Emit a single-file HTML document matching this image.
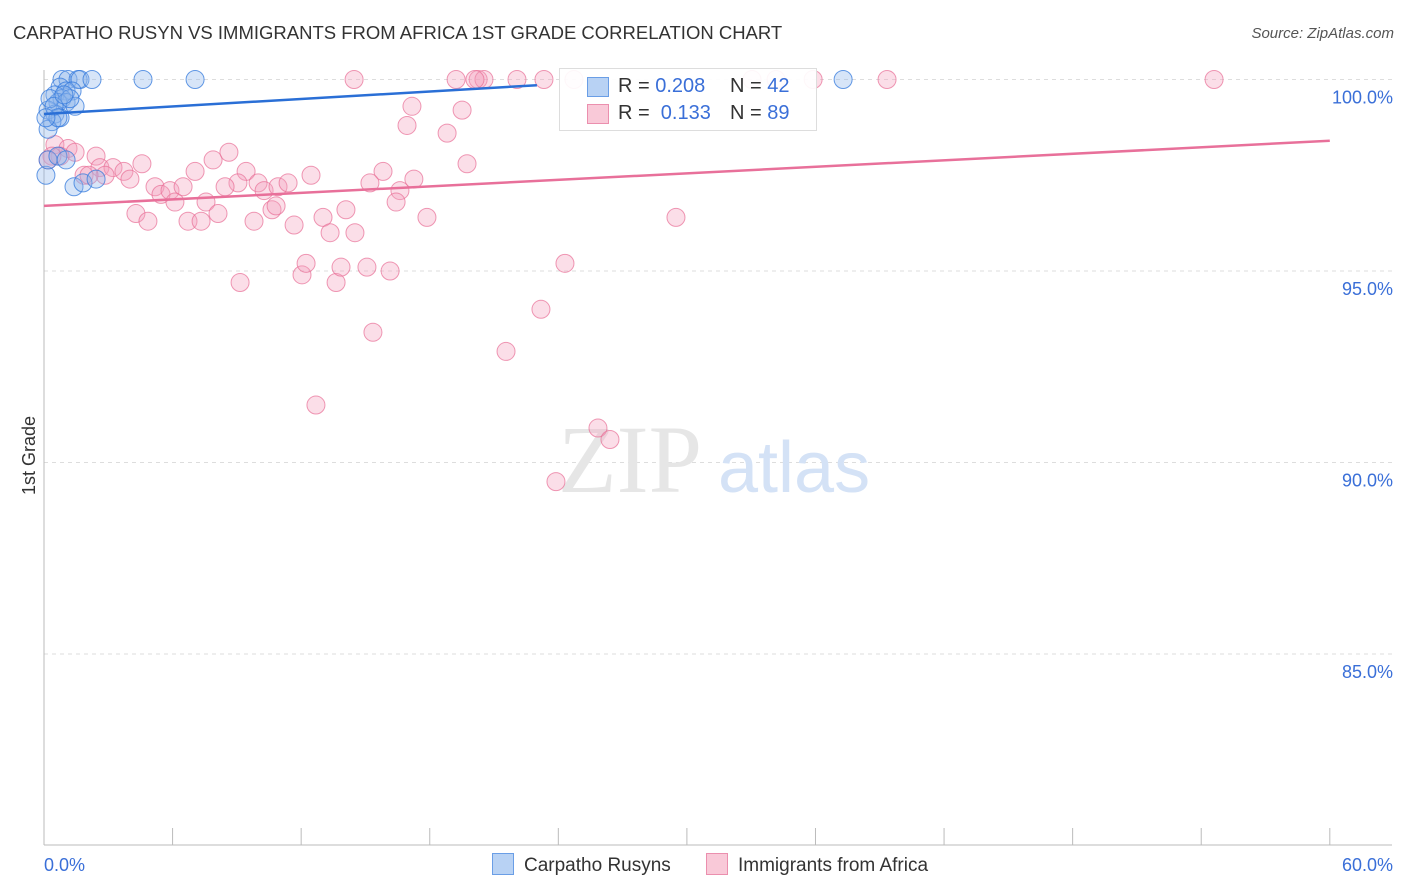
<!DOCTYPE html>
<html><head><meta charset="utf-8">
<style>
body{margin:0;background:#fff;font-family:"Liberation Sans",sans-serif;}
#wrap{position:relative;width:1406px;height:892px;overflow:hidden;}
.t{position:absolute;white-space:nowrap;}
</style></head><body>
<div id="wrap">
<div class="t" style="left:13px;top:22px;font-size:18.5px;color:#333;">CARPATHO RUSYN VS IMMIGRANTS FROM AFRICA 1ST GRADE CORRELATION CHART</div>
<div class="t" style="right:12px;top:25px;font-size:15px;color:#555;font-style:italic;">Source: ZipAtlas.com</div>
<div class="t" style="left:-10px;top:445px;font-size:18px;color:#333;transform:rotate(-90deg);">1st Grade</div>
<svg id="svg" width="1406" height="892" style="position:absolute;left:0;top:0"></svg>
</div>
<script>
const yTicks=[100,95,90,85];
const xTickLabels=["0.0%","60.0%"];
const blueX=[0.84,1.12,1.59,1.68,2.24,4.62,7.05,37.29,0.75,1.03,1.31,0.51,0.84,0.65,1.03,1.45,0.19,0.51,0.75,0.37,0.19,0.09,1.40,1.82,2.43,0.19,0.65,1.03,1.21,0.28,0.47,0.93,0.65,0.09];
const blueY=[100,100,100,100,100,100,100,100,99.8,99.7,99.7,99.6,99.5,99.4,99.4,99.3,99.2,99.1,99.0,98.9,98.7,97.5,97.2,97.3,97.4,97.9,98.0,97.9,99.5,99.5,99.3,99.6,99.0,99.0];
const pinkX=[14.47,19.23,20.26,20.53,22.07,23.33,24.73,33.04,34.16,35.89,39.34,54.6,17.17,19.51,16.94,18.81,19.74,0.51,1.12,1.45,0.75,0.37,0.19,2.43,2.61,3.22,3.73,4.57,2.85,1.87,2.1,4.01,5.18,5.46,5.88,6.49,7.05,7.89,8.63,9.43,9.05,9.99,10.27,10.92,11.39,12.46,15.82,15.21,17.26,16.61,16.43,4.29,4.85,6.11,6.72,7.33,7.56,8.12,8.45,9.8,10.64,10.83,11.67,13.02,13.35,14.09,14.51,17.87,29.49,24.31,9.15,12.04,12.23,13.63,13.86,15.07,16.15,15.35,23.19,21.56,12.69,25.85,26.41,23.89,20.11];
const pinkY=[100,100,100,100,100,100,100,100,100,100,100,100,99.3,99.2,98.8,98.6,97.8,98.3,98.2,98.1,98.0,98.0,97.9,98.0,97.7,97.7,97.6,97.8,97.5,97.5,97.5,97.4,97.2,97.0,97.1,97.2,97.6,97.9,98.1,97.6,97.3,97.3,97.1,97.2,97.3,97.5,97.6,97.3,97.4,97.1,96.8,96.5,96.3,96.8,96.3,96.3,96.8,96.5,97.2,96.3,96.6,96.7,96.2,96.4,96.0,96.6,96.0,96.4,96.4,95.2,94.7,94.9,95.2,94.7,95.1,95.1,95.0,93.4,94.0,92.9,91.5,90.9,90.6,89.5,100];
const blueTrend=[0,99.1,23,99.85];
const pinkTrend=[0,96.7,60,98.4];
const X=v=>44+v*21.43, Y=v=>79.5+(100-v)*38.3;
const svg=document.getElementById('svg'),NS='http://www.w3.org/2000/svg';
function mk(t,a,p){const e=document.createElementNS(NS,t);for(const k in a)e.setAttribute(k,a[k]);(p||svg).appendChild(e);return e;}
yTicks.forEach(v=>{const l=mk('line',{x1:44,x2:1392,y1:Y(v),y2:Y(v),stroke:'#ddd','stroke-dasharray':'4,4'});


const t=mk('text',{x:1393,y:Y(v)+24,'text-anchor':'end','font-size':18,fill:'#3a6fd8','font-family':'Liberation Sans'});t.textContent=v.toFixed(1)+'%';

});
mk('line',{x1:44,x2:44,y1:70,y2:845,stroke:'#bbb'});
mk('line',{x1:44,x2:1392,y1:845,y2:845,stroke:'#bbb'});
for(let i=0;i<=10;i++){const x=X(i*6);const l=mk('line',{x1:x,x2:x,y1:828,y2:845,stroke:'#bbb'});

}
[[0,'start'],[60,'end']].forEach((d,i)=>{const t=mk('text',{x:d[0]==0?44:1393,y:871,'text-anchor':d[1],'font-size':18,fill:'#3a6fd8','font-family':'Liberation Sans'});t.textContent=xTickLabels[i];

});
const wm=mk('text',{x:558,y:492,'font-size':96,fill:'#e6e6e6','font-family':'Liberation Serif'});wm.textContent='ZIP';


const wm2=mk('text',{x:718,y:492,'font-size':72,fill:'#d4e2f6','font-family':'Liberation Sans'});wm2.textContent='atlas';


pinkX.forEach((x,i)=>{const c=mk('circle',{cx:X(x),cy:Y(pinkY[i]),r:9,fill:'rgba(244,160,190,0.35)',stroke:'rgba(232,110,150,0.7)','stroke-width':1});

});
blueX.forEach((x,i)=>{const c=mk('circle',{cx:X(x),cy:Y(blueY[i]),r:9,fill:'rgba(140,180,235,0.35)',stroke:'rgba(50,120,220,0.75)','stroke-width':1});

});
const bt=mk('line',{x1:X(blueTrend[0]),y1:Y(blueTrend[1]),x2:X(blueTrend[2]),y2:Y(blueTrend[3]),stroke:'#2a6fd6','stroke-width':2.5});


const pt=mk('line',{x1:X(pinkTrend[0]),y1:Y(pinkTrend[1]),x2:X(pinkTrend[2]),y2:Y(pinkTrend[3]),stroke:'#e8709a','stroke-width':2.5});


</script>
<div style="position:absolute;left:559px;top:68px;width:256px;height:61px;background:rgba(255,255,255,0.92);border:1px solid #ddd;font-size:20px;color:#333;">
 <div style="position:absolute;left:27px;top:8px;width:20px;height:18px;background:#b8d2f4;border:1px solid #6a9ee6;"></div>
 <div class="t" style="left:58px;top:6px;">R = <span style="color:#3a6fd8">0.208</span></div>
 <div class="t" style="left:170px;top:6px;">N = <span style="color:#3a6fd8">42</span></div>
 <div style="position:absolute;left:27px;top:35px;width:20px;height:18px;background:#f9c9d8;border:1px solid #eb8fae;"></div>
 <div class="t" style="left:58px;top:33px;">R = &nbsp;<span style="color:#3a6fd8">0.133</span></div>
 <div class="t" style="left:170px;top:33px;">N = <span style="color:#3a6fd8">89</span></div>
</div>
<div style="position:absolute;left:492px;top:853px;font-size:19px;color:#333;">
 <span style="display:inline-block;width:20px;height:20px;background:#b8d2f4;border:1px solid #6a9ee6;vertical-align:-4px;margin-right:10px"></span>Carpatho Rusyns</div>
<div style="position:absolute;left:706px;top:853px;font-size:19px;color:#333;">
 <span style="display:inline-block;width:20px;height:20px;background:#f9c9d8;border:1px solid #eb8fae;vertical-align:-4px;margin-right:10px"></span>Immigrants from Africa</div>
</body></html>
